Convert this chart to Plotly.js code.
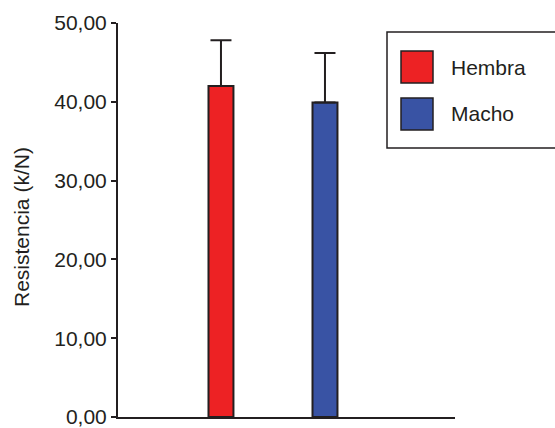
<!DOCTYPE html>
<html>
<head>
<meta charset="utf-8">
<script src="https://cdn.plot.ly/plotly-3.0.1.min.js"></script>
<style>html,body{margin:0;padding:0;background:#fff}#chart{width:555px;height:428px}</style>
</head>
<body>
<div id="chart"></div>
<script>
var categories = ['Hembra', 'Macho'];
var means = [42.0, 39.9];
var errorsUp = [5.8, 6.3];
var colors = ['#ed2224', '#3953a4'];
var yTitle = 'Resistencia (k/N)';

var ink = '#231f20';
var font = {family: 'Liberation Sans, Arial, sans-serif', size: 21, color: ink};

// plot area in page pixels: x 118..455, y 23..417
function px(x) { return (x - 118) / 337; }
function py(y) { return (417 - y) / 394; }

var traces = categories.map(function (c, i) {
  return {
    type: 'bar',
    name: c,
    x: [c],
    y: [means[i]],
    width: 0.24,
    marker: {color: colors[i], line: {color: ink, width: 2}},
    error_y: {type: 'data', symmetric: false, array: [errorsUp[i]], arrayminus: [0],
              color: ink, thickness: 2, width: 10.5},
    showlegend: false
  };
});

var shapes = [
  {type: 'line', xref: 'x domain', yref: 'y', x0: 0, x1: 0, ysizemode: 'pixel', yanchor: 0, y0: 0, y1: -10, line: {color: ink, width: 2}},
  {type: 'line', xref: 'x domain', yref: 'y', x0: 1, x1: 1, ysizemode: 'pixel', yanchor: 0, y0: 0, y1: -10, line: {color: ink, width: 2}},
  {type: 'rect', xref: 'paper', yref: 'paper', x0: px(387), x1: px(580), y0: py(148), y1: py(32), line: {color: ink, width: 1.5}, fillcolor: 'rgba(0,0,0,0)'}
];
var annotations = [
  {xref: 'paper', yref: 'paper', x: px(21), y: py(227), xanchor: 'center', yanchor: 'middle',
   textangle: -90, text: yTitle, showarrow: false, font: font}
];
categories.forEach(function (c, i) {
  var top = 51 + i * 47;
  shapes.push({type: 'rect', xref: 'paper', yref: 'paper', x0: px(401), x1: px(433), y0: py(top + 32), y1: py(top),
               fillcolor: colors[i], line: {color: ink, width: 1.5}});
  annotations.push({xref: 'paper', yref: 'paper', x: px(449), y: py(top + 16),
                    xanchor: 'left', yanchor: 'middle', text: c, showarrow: false, font: font});
});

var layout = {
  width: 555, height: 428,
  margin: {l: 118, r: 100, t: 23, b: 11, pad: 0},
  paper_bgcolor: '#fff', plot_bgcolor: '#fff',
  separators: ',.',
  barmode: 'overlay',
  showlegend: false,
  font: font,
  xaxis: {type: 'category', range: [-0.99, 2.25], showline: true, linecolor: ink, linewidth: 2,
          showticklabels: false, ticks: '', showgrid: false, zeroline: false, fixedrange: true},
  yaxis: {range: [0, 50], tickvals: [0, 10, 20, 30, 40, 50], tickformat: '.2f',
          showline: true, linecolor: ink, linewidth: 2, ticks: 'outside', ticklen: 5, tickwidth: 2,
          tickcolor: ink, showgrid: false, zeroline: false, tickfont: font, ticklabeloverflow: 'allow'},
  shapes: shapes,
  annotations: annotations
};
Plotly.newPlot('chart', traces, layout, {displayModeBar: false, staticPlot: true});
</script>
</body>
</html>
